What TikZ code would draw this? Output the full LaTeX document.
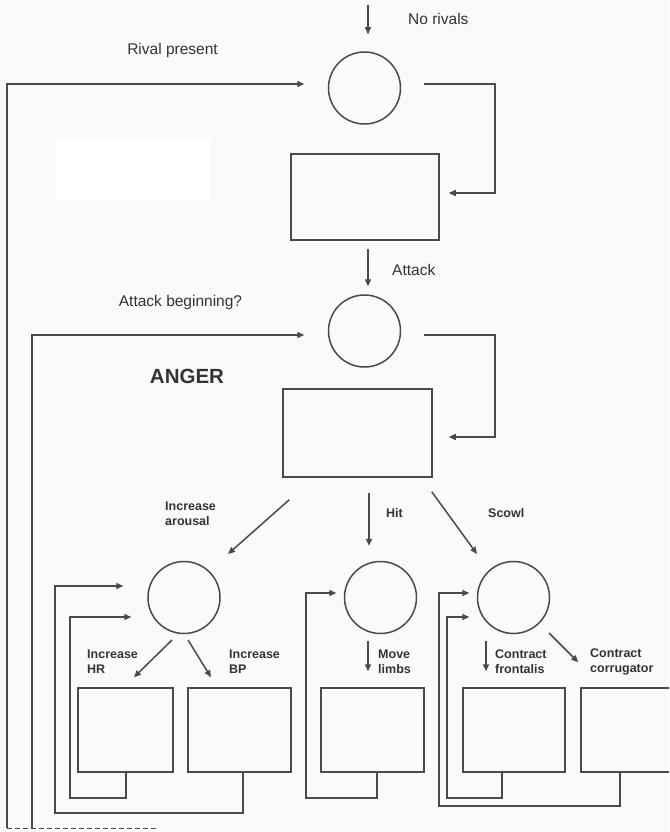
\documentclass[tikz,border=0pt]{standalone}
\usepackage{fontspec}
\setmainfont{Liberation Sans}
\usetikzlibrary{arrows.meta,calc}
\definecolor{ink}{HTML}{4A4A4A}
\definecolor{txt}{HTML}{333333}
\definecolor{paper}{HTML}{FAFAFA}

\begin{document}
\begin{tikzpicture}[x=1pt,y=-1pt,
  line/.style={draw=ink, line width=1.5pt},
  arr/.style={line, -{Triangle[length=7pt,width=6pt]}},
  state/.style={circle, line, minimum size=72pt, inner sep=0pt},
  stage/.style={rectangle, line, inner sep=0pt},
  lbl/.style={text=txt, font=\fontsize{15.5}{18}\selectfont, inner sep=0pt},
  sub/.style={text=txt, font=\bfseries\fontsize{12.5}{15}\selectfont, align=left, inner sep=0pt, anchor=west},
]
% page and background
\clip (0,0) rectangle (669,832);
\fill[paper] (0,0) rectangle (669,832);
\fill[white] (55,138) rectangle (210,201);

% states (circles) and stages (boxes)
\node[state] (c1) at (364.5,88) {};
\node[stage, minimum width=148pt, minimum height=86pt] (b1) at (365,197) {};
\node[state] (c2) at (364.5,331) {};
\node[stage, minimum width=149pt, minimum height=88pt] (b2) at (357.5,433) {};

\node[state] (c3) at (184,597.5) {};
\node[state] (c4) at (380.5,597.5) {};
\node[state] (c5) at (513.5,597.5) {};

\node[stage, minimum width=95pt,  minimum height=84pt] (bHR) at (125.5,730) {};
\node[stage, minimum width=103pt, minimum height=84pt] (bBP) at (239.5,730) {};
\node[stage, minimum width=103pt, minimum height=84pt] (bML) at (372.5,730) {};
\node[stage, minimum width=102pt, minimum height=84pt] (bCF) at (514,730) {};
\node[stage, minimum width=103pt, minimum height=84pt] (bCC) at (632.5,730) {};

% free ends
\coordinate (in) at (368,5);
\coordinate (fb1) at (7,828);
\coordinate (fb2) at (32,828);
\coordinate (fbe) at (157,828);

% labels
\node[lbl, anchor=west] (tnr) at (408,19) {No rivals};
\node[lbl] (trp) at (172.5,50) {Rival present};
\node[lbl, anchor=west] (tat) at (392,270) {Attack};
\node[lbl] (tab) at (180.5,302) {Attack beginning?};
\node[text=txt, font=\bfseries\fontsize{20.5}{24}\selectfont, inner sep=0pt] (tang) at (187,376) {ANGER};

\node[sub] (tar) at (165,513.5) {Increase\\arousal};
\node[sub] (thit) at (386,513) {Hit};
\node[sub] (tsc) at (488,513) {Scowl};
\node[sub] (thr) at (87,661.5) {Increase\\HR};
\node[sub] (tbp) at (229,661.5) {Increase\\BP};
\node[sub] (tml) at (378,661.5) {Move\\limbs};
\node[sub] (tcf) at (495,661.5) {Contract\\frontalis};
\node[sub] (tcc) at (590,661.5) {Contract\\corrugator};

% main sequence
\draw[arr, shorten >=17pt] (in) -- ([xshift=3.5pt]c1.north);
\draw[arr, shorten <=22.5pt, shorten >=9pt] ([yshift=4pt]c1.east) -- ++(93.5,0) |- ([yshift=4pt]b1.east);
\draw[arr, shorten <=8pt, shorten >=8pt] ([xshift=3pt]b1.south) -- ([xshift=3.5pt]c2.north);
\draw[arr, shorten <=22.5pt, shorten >=16pt] ([yshift=-4pt]c2.east) -- ++(93.5,0) |- ([yshift=-4pt]b2.east);

% long feedback loops
\draw[line, dashed, dash pattern=on 5pt off 3pt, line width=1pt] (fb1) -- (fbe);
\draw[arr, shorten >=23.5pt] (fb1) |- ([yshift=4pt]c1.west);
\draw[arr, shorten >=23.5pt] (fb2) |- ([yshift=-4pt]c2.west);

% branches out of the anger stage
\draw[arr] ($(b2.south west)+(7,22)$) -- ($(c3.center)+(44,-43.5)$);
\draw[arr, shorten <=15pt, shorten >=15pt] ([xshift=11.5pt]b2.south) -- ([xshift=-11.5pt]c4.north);
\draw[arr] ($(b2.south east)+(-1,14)$) -- ($(c5.center)+(-36.5,-43.5)$);

% responses
\draw[arr] ($(c3.center)+(-12,42.5)$) -- ($(bHR.north)+(8.5,-10)$);
\draw[arr] ($(c3.center)+(4,42.5)$) -- ($(bBP.north)+(-28.5,-10)$);
\draw[arr] ($(c4.center)+(-12.5,43.5)$) -- ($(bML.north)+(-4.5,-16)$);
\draw[arr] ($(c5.center)+(-27.5,43.5)$) -- ($(bCF.north)+(-28,-16)$);
\draw[arr] ($(c5.center)+(35.5,35.5)$) -- ($(bCC.north west)+(-2,-25)$);

% local feedback loops
\draw[arr, shorten >=16pt] ([xshift=0.5pt]bHR.south) |- (70,798) |- ([yshift=-19.5pt]c3.west);
\draw[arr, shorten >=24pt] ([xshift=3.5pt]bBP.south) |- (55,813) |- ([yshift=11.5pt]c3.west);
\draw[arr, shorten >=7.5pt] ([xshift=4.5pt]bML.south) |- (306,798) |- ([yshift=4.5pt]c4.west);
\draw[arr, shorten >=7.5pt] ([xshift=-12pt]bCF.south) |- (447,798) |- ([yshift=-19.5pt]c5.west);
\draw[arr, shorten >=7.5pt] ([xshift=-12.5pt]bCC.south) |- (439,806) |- ([yshift=4.5pt]c5.west);
\end{tikzpicture}
\end{document}
